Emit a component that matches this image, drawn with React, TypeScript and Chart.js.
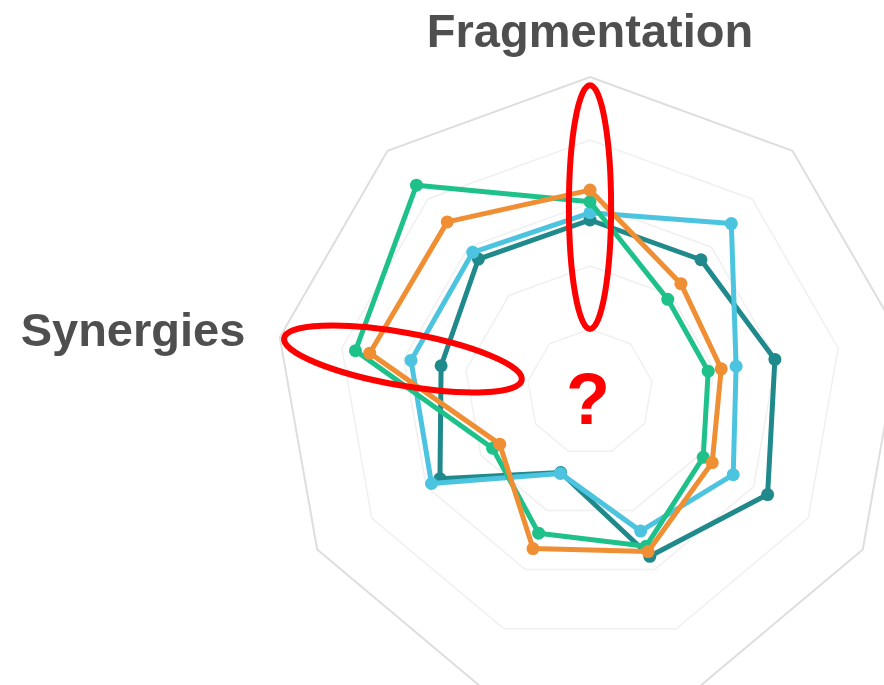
import { useEffect, useRef } from 'react';
import { Chart, registerables } from 'chart.js';

Chart.register(...registerables);

// ---- data ----
const axisLabels = ['Fragmentation', '', '', '', '', '', '', 'Synergies', ''];
const seriesNames = ['Series 1', 'Series 2', 'Series 3', 'Series 4'];
const orangeValues = [64.1, 44.9, 42.3, 44.8, 53.9, 52.9, 33.1, 71.0, 70.5];
const greenValues = [60.4, 38.4, 38.1, 41.5, 52.1, 47.7, 35.7, 75.6, 85.7];
const blueValues = [56.9, 69.8, 47.1, 52.5, 47.0, 27.5, 58.1, 57.7, 57.9];
const tealValues = [54.6, 54.8, 59.6, 65.1, 55.5, 27.2, 55.0, 48.0, 55.1];
const scaleMin = 0;
const scaleMax = 100;
const scaleStep = 20;
const centerMark = '?';

const COLORS = ['#ef8e33', '#1fc18a', '#4cc4df', '#1f898b'];

const overlayPlugin = {
  id: 'overlay',
  afterDatasetsDraw(chart: any) {
    const scale = chart.scales.r;
    const ctx: CanvasRenderingContext2D = chart.ctx;
    ctx.save();

    // axis titles
    ctx.font = 'bold 47px "Liberation Sans", Arial, sans-serif';
    ctx.fillStyle = '#4f4f4f';
    ctx.textBaseline = 'alphabetic';
    axisLabels.forEach((label, i) => {
      if (!label) return;
      const angle = scale.getIndexAngle(i);
      const isTop = Math.abs(angle) < 0.01;
      const pad = isTop ? 30 : 35;
      const p = scale.getPointPosition(i, scale.drawingArea + pad);
      if (isTop) {
        ctx.textAlign = 'center';
        ctx.fillText(label, p.x, p.y);
      } else {
        ctx.textAlign = p.x < scale.xCenter ? 'right' : 'left';
        ctx.fillText(label, p.x, p.y + 15);
      }
    });

    // red ellipses along two axes
    const ellipses = [
      { index: 0, at: 58.7, major: 38.7, minor: 6.7 },
      { index: 7, at: 60.3, major: 38.3, minor: 8.4 },
    ];
    ctx.strokeStyle = '#ff0000';
    ctx.lineWidth = 6;
    const unit = scale.getDistanceFromCenterForValue(1) - scale.getDistanceFromCenterForValue(0);
    ellipses.forEach((e) => {
      const d = scale.getDistanceFromCenterForValue(e.at);
      const c = scale.getPointPosition(e.index, d);
      ctx.beginPath();
      ctx.ellipse(c.x, c.y, e.major * unit, e.minor * unit, c.angle, 0, Math.PI * 2);
      ctx.stroke();
    });

    // question mark in the middle
    ctx.font = 'bold 72px "Liberation Sans", Arial, sans-serif';
    ctx.fillStyle = '#ff0000';
    ctx.textAlign = 'center';
    ctx.fillText(centerMark, scale.xCenter - 2, scale.yCenter + 32);

    ctx.restore();
  },
};

export default function App() {
  const canvasRef = useRef<HTMLCanvasElement | null>(null);

  useEffect(() => {
    if (!canvasRef.current) return;
    const series = [orangeValues, greenValues, blueValues, tealValues];
    const chart = new Chart(canvasRef.current, {
      type: 'radar',
      data: {
        labels: axisLabels,
        datasets: series.map((values, k) => ({
          label: seriesNames[k],
          data: values,
          borderColor: COLORS[k],
          backgroundColor: COLORS[k],
          pointBackgroundColor: COLORS[k],
          pointBorderColor: COLORS[k],
          pointBorderWidth: 0,
          pointRadius: 6.5,
          borderWidth: 5,
          borderJoinStyle: 'round' as const,
          fill: false,
          tension: 0,
          clip: false as any,
        })),
      },
      options: {
        responsive: false,
        animation: false,
        devicePixelRatio: 1,
        layout: { padding: { left: 275, top: 77, right: 15, bottom: 13 } },
        plugins: {
          legend: { display: false },
          tooltip: { enabled: false },
        },
        scales: {
          r: {
            min: scaleMin,
            max: scaleMax,
            ticks: { display: false, stepSize: scaleStep },
            angleLines: { display: false },
            pointLabels: { display: false },
            grid: {
              color: (ctx: any) => (ctx.tick && ctx.tick.value === scaleMax ? '#dedede' : '#f0f0f0'),
              lineWidth: (ctx: any) => (ctx.tick && ctx.tick.value === scaleMax ? 2 : 1.5),
            },
          },
        },
      },
      plugins: [overlayPlugin],
    });
    return () => chart.destroy();
  }, []);

  return (
    <div
      style={{
        position: 'fixed',
        left: 0,
        top: 0,
        width: 884,
        height: 685,
        overflow: 'hidden',
        background: '#ffffff',
      }}
    >
      <canvas ref={canvasRef} width={920} height={720} style={{ display: 'block', width: 920, height: 720 }} />
    </div>
  );
}
